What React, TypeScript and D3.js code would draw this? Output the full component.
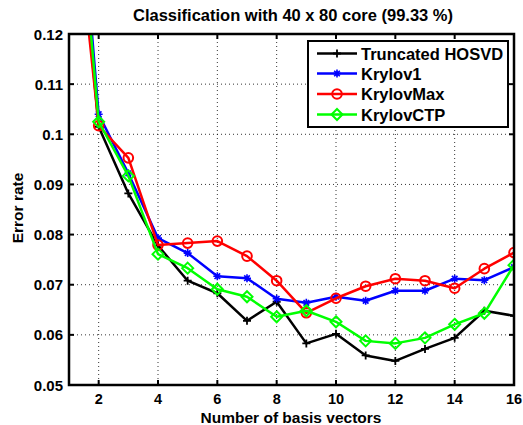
import React from "react";
import * as d3 from "d3";

const xValues = [1, 2, 3, 4, 5, 6, 7, 8, 9, 10, 11, 12, 13, 14, 15, 16];
const truncatedHOSVD = [0.165, 0.1015, 0.0882, 0.0778, 0.0708, 0.0683, 0.0628, 0.0666, 0.0583, 0.0602, 0.0559, 0.0548, 0.0572, 0.0594, 0.0648, 0.0638];
const krylov1 = [0.175, 0.104, 0.0922, 0.0793, 0.0763, 0.0717, 0.0713, 0.0672, 0.0664, 0.0676, 0.0668, 0.0688, 0.0688, 0.0712, 0.0709, 0.0735];
const krylovMax = [0.158, 0.1017, 0.0953, 0.0779, 0.0783, 0.0787, 0.0757, 0.0708, 0.0644, 0.0673, 0.0697, 0.0712, 0.0708, 0.0693, 0.0732, 0.0764];
const krylovCTP = [0.17, 0.1025, 0.0917, 0.0761, 0.0733, 0.0691, 0.0676, 0.0636, 0.0648, 0.0626, 0.0588, 0.0583, 0.0594, 0.0621, 0.0643, 0.0739];
const xTicks = [2, 4, 6, 8, 10, 12, 14, 16];
const yTicks = [0.05, 0.06, 0.07, 0.08, 0.09, 0.1, 0.11, 0.12];
const seriesNames = ["Truncated HOSVD", "Krylov1", "KrylovMax", "KrylovCTP"];
const seriesColors = ["#000000", "#0000ff", "#ff0000", "#00ff00"];
const seriesMarkers = ["plus", "star", "circle", "diamond"];
const seriesData = [truncatedHOSVD, krylov1, krylovMax, krylovCTP];

const L = 69, R = 514, T = 34, B = 385;
const font = "'Liberation Sans', Arial, Helvetica, sans-serif";

function Marker({ type, x, y, color }: { type: string; x: number; y: number; color: string }) {
  if (type === "plus") {
    return <path d={`M${x - 4},${y}H${x + 4}M${x},${y - 4}V${y + 4}`} stroke={color} strokeWidth={1.8} fill="none" />;
  }
  if (type === "star") {
    const r = 4;
    const d = 2.8;
    return (
      <path
        d={`M${x - r},${y}H${x + r}M${x},${y - r}V${y + r}M${x - d},${y - d}L${x + d},${y + d}M${x - d},${y + d}L${x + d},${y - d}`}
        stroke={color}
        strokeWidth={1.6}
        fill="none"
      />
    );
  }
  if (type === "circle") {
    return <circle cx={x} cy={y} r={4.8} stroke={color} strokeWidth={2} fill="none" />;
  }
  const r = 5.5;
  return <path d={`M${x},${y - r}L${x + r},${y}L${x},${y + r}L${x - r},${y}Z`} stroke={color} strokeWidth={2} fill="none" />;
}

export default function App() {
  const x = d3.scaleLinear().domain([1, 16]).range([L, R]);
  const y = d3.scaleLinear().domain([0.05, 0.12]).range([B, T]);
  const line = d3
    .line<number>()
    .x((_, i) => x(xValues[i]))
    .y((d) => y(d));

  const legendX = 308, legendY = 41, legendW = 200, legendH = 86;
  const rowY = [53.5, 73.5, 94, 114.5];

  return (
    <svg width={523} height={425} style={{ display: "block", position: "absolute", left: 0, top: 0 }} fontFamily={font}>
      <rect x={0} y={0} width={523} height={425} fill="#fff" />
      <defs>
        <clipPath id="plotclip">
          <rect x={L} y={T} width={R - L} height={B - T} />
        </clipPath>
      </defs>
      {/* grid */}
      {xTicks.map((t) => (
        <line key={"gx" + t} x1={x(t)} x2={x(t)} y1={T} y2={B} stroke="#000" strokeWidth={0.8} strokeDasharray="1,3" />
      ))}
      {yTicks.map((t) => (
        <line key={"gy" + t} x1={L} x2={R} y1={y(t)} y2={y(t)} stroke="#000" strokeWidth={0.8} strokeDasharray="1,3" />
      ))}
      {/* series */}
      <g clipPath="url(#plotclip)">
        {seriesData.map((s, k) => (
          <g key={"s" + k}>
            <path d={line(s) || ""} stroke={seriesColors[k]} strokeWidth={2.5} fill="none" strokeLinejoin="round" />
            {s.map((v, i) => (
              <Marker key={i} type={seriesMarkers[k]} x={x(xValues[i])} y={y(v)} color={seriesColors[k]} />
            ))}
          </g>
        ))}
      </g>
      {/* ticks */}
      {xTicks.map((t) => (
        <g key={"tx" + t}>
          <line x1={x(t)} x2={x(t)} y1={B} y2={B - 5} stroke="#000" strokeWidth={2} />
          <line x1={x(t)} x2={x(t)} y1={T} y2={T + 5} stroke="#000" strokeWidth={2} />
          <text x={x(t)} y={404} textAnchor="middle" fontSize={14.5} fontWeight="bold">
            {t}
          </text>
        </g>
      ))}
      {yTicks.map((t) => (
        <g key={"ty" + t}>
          <line x1={L} x2={L + 5} y1={y(t)} y2={y(t)} stroke="#000" strokeWidth={2} />
          <line x1={R} x2={R - 5} y1={y(t)} y2={y(t)} stroke="#000" strokeWidth={2} />
          <text x={63} y={y(t) + 5.5} textAnchor="end" fontSize={15} fontWeight="bold">
            {d3.format("")(t)}
          </text>
        </g>
      ))}
      <rect x={L} y={T} width={R - L} height={B - T} fill="none" stroke="#000" strokeWidth={2.5} />
      {/* labels */}
      <text x={293} y={21} textAnchor="middle" fontSize={16.5} fontWeight="bold">
        Classification with 40 x 80 core (99.33 %)
      </text>
      <text x={291} y={423} textAnchor="middle" fontSize={15.5} fontWeight="bold">
        Number of basis vectors
      </text>
      <text transform={`translate(23,208) rotate(-90)`} textAnchor="middle" fontSize={15.5} fontWeight="bold">
        Error rate
      </text>
      {/* legend */}
      <rect x={legendX} y={legendY} width={legendW} height={legendH} fill="#fff" stroke="#000" strokeWidth={2} />
      {seriesNames.map((n, k) => (
        <g key={"l" + k}>
          <line x1={317} x2={357} y1={rowY[k]} y2={rowY[k]} stroke={seriesColors[k]} strokeWidth={2.5} />
          <Marker type={seriesMarkers[k]} x={337} y={rowY[k]} color={seriesColors[k]} />
          <text x={361} y={rowY[k] + 6} fontSize={16.5} fontWeight="bold">
            {n}
          </text>
        </g>
      ))}
    </svg>
  );
}
